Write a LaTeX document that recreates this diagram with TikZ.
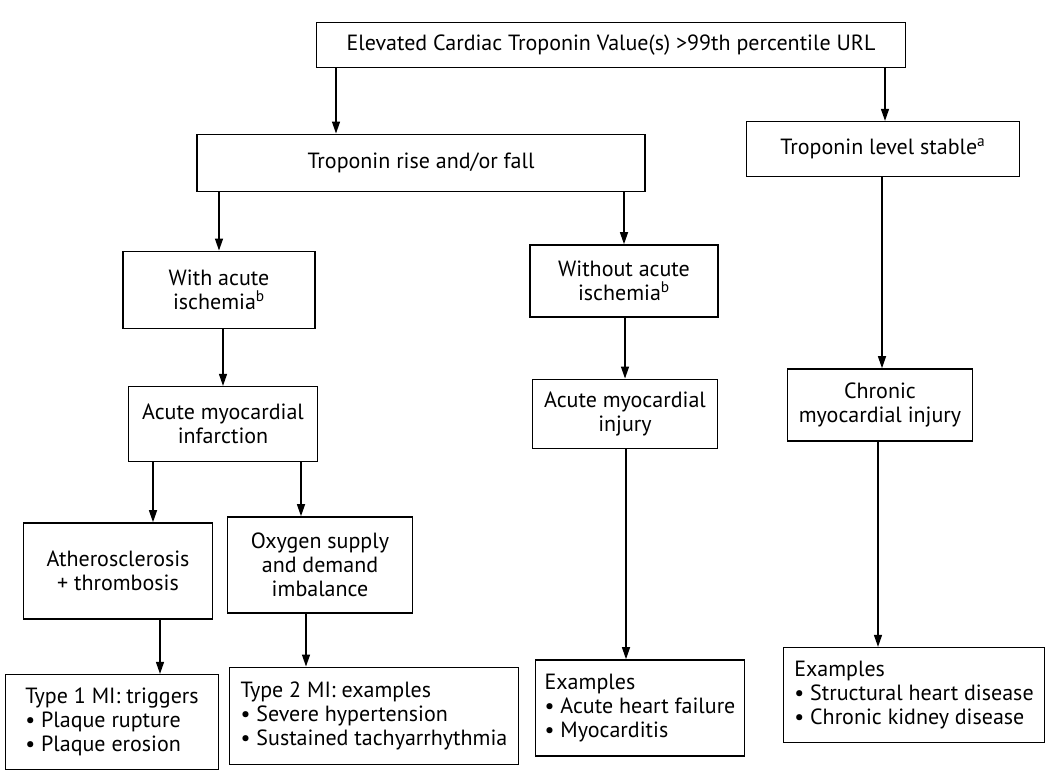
\documentclass[tikz,border=0pt]{standalone}
\usepackage{fontspec}
\setmainfont{PT Sans}
\usetikzlibrary{arrows.meta, positioning}
\tikzset{
  box/.style={draw, line width=1.2pt, align=center, inner sep=3pt, font=\fontsize{16.5}{18.2}\selectfont},
  listbox/.style={box, align=left},
  arr/.style={line width=1pt, -{Triangle[length=9pt,width=6pt]}}
}

\begin{document}
\begin{tikzpicture}[x=0.75pt, y=-0.75pt]
  \useasboundingbox (0,0) rectangle (1046,772);
  % first and second level
  \node[box, minimum width=442pt, minimum height=34pt] (top) at (611,45) {Elevated Cardiac Troponin Value(s) >99th percentile URL};
  \node[box, minimum width=336pt, minimum height=43pt] (rise) at (421,163) {Troponin rise and/or fall};
  \node[box, minimum width=205pt, minimum height=41pt] (stable) at (883,149) {Troponin level stable\textsuperscript{a}};
  % ischemia
  \node[box, minimum width=144pt, minimum height=58pt] (withac) at (219,290) {With acute\\ischemia\textsuperscript{b}};
  \node[box, minimum width=141pt, minimum height=54pt] (withoutac) at (624,281) {Without acute\\ischemia\textsuperscript{b}};
  % injury
  \node[box, minimum width=142pt, minimum height=56pt] (ami) at (223,424) {Acute myocardial\\infarction};
  \node[box, minimum width=139pt, minimum height=52pt] (aminj) at (625,414) {Acute myocardial\\injury};
  \node[box, minimum width=139pt, minimum height=54pt] (chronic) at (880,405) {Chronic\\myocardial injury};
  % mechanism
  \node[box, minimum width=142pt, minimum height=72pt] (athero) at (118,571) {Atherosclerosis\\+ thrombosis};
  \node[box, minimum width=139pt, minimum height=72pt] (oxygen) at (320,565) {Oxygen supply\\and demand\\imbalance};
  % examples
  \node[listbox, minimum width=160pt, minimum height=71pt] (type1) at (112,722) {Type 1 MI: triggers\\\textbullet\ Plaque rupture\\\textbullet\ Plaque erosion};
  \node[listbox, minimum width=217pt, minimum height=73pt] (type2) at (374,716) {Type 2 MI: examples\\\textbullet\ Severe hypertension\\\textbullet\ Sustained tachyarrhythmia};
  \node[listbox, minimum width=157pt, minimum height=72pt] (exacute) at (640,708) {Examples\\\textbullet\ Acute heart failure\\\textbullet\ Myocarditis};
  \node[listbox, minimum width=196pt, minimum height=71pt] (exchronic) at (914,695) {Examples\\\textbullet\ Structural heart disease\\\textbullet\ Chronic kidney disease};

  \draw[arr] (336,0 |- top.south) -- (336,0 |- rise.north);
  \draw[arr] (885,0 |- top.south) -- (885,0 |- stable.north);
  \draw[arr] (219,0 |- rise.south) -- (withac);
  \draw[arr] (624,0 |- rise.south) -- (withoutac);
  \draw[arr] (882,0 |- stable.south) -- (882,0 |- chronic.north);
  \draw[arr] (223,0 |- withac.south) -- (ami);
  \draw[arr] (153,0 |- ami.south) -- (153,0 |- athero.north);
  \draw[arr] (301,0 |- ami.south) -- (301,0 |- oxygen.north);
  \draw[arr] (625,0 |- withoutac.south) -- (aminj);
  \draw[arr] (160,0 |- athero.south) -- (160,0 |- type1.north);
  \draw[arr] (306,0 |- oxygen.south) -- (306,0 |- type2.north);
  \draw[arr] (626,0 |- aminj.south) -- (626,0 |- exacute.north);
  \draw[arr] (878,0 |- chronic.south) -- (878,0 |- exchronic.north);
\end{tikzpicture}
\end{document}
